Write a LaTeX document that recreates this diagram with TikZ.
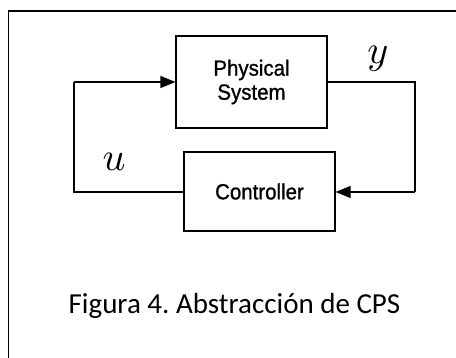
\documentclass[tikz,border=0pt]{standalone}
\usepackage{fontspec}
\newfontfamily\blockfont[FakeStretch=0.93,FakeBold=1]{Liberation Sans}
\newfontfamily\captionfont{Carlito}
\usetikzlibrary{arrows.meta}
\frenchspacing
\newcommand{\siglabel}[1]{\scalebox{4}{$#1$}}
\begin{document}
\begin{tikzpicture}[x=1pt,y=-1pt,
  block/.style={draw,line width=1.2pt,minimum width=#1,inner sep=0pt,
    align=center,font=\blockfont\fontsize{22}{24}\selectfont},
  wire/.style={line width=1.2pt},
  arr/.style={wire,-{Triangle[length=15pt,width=12pt]}},
  lbl/.style={inner sep=0pt}]
\useasboundingbox (0,0) rectangle (456,358);
% frame
\draw[line width=1.6pt] (8.5,358) -- (8.5,11) -- (456,11);
% blocks
\node[block=151pt,minimum height=92pt] (ps) at (251.5,82) {Physical\\System};
\node[block=151pt,minimum height=79pt] (ctl) at (259.5,191.5) {Controller};
% loop corners
\coordinate (tl) at (74,82);
\coordinate (bl) at (74,192);
\coordinate (tr) at (415,82);
\coordinate (br) at (415,192);
% connectors
\draw[wire] (ctl.west |- bl) -- (bl) -- (tl);
\draw[arr] (tl) -- (ps.west |- tl);
\draw[wire] (ps.east |- tr) -- (tr) -- (br);
\draw[arr] (br) -- (ctl.east |- br);
% signal labels
\node[lbl] (ylab) at (378,59) {\siglabel{y}};
\node[lbl] (ulab) at (114,162) {\siglabel{u}};
% caption
\node[anchor=base,inner sep=0pt,font=\captionfont\fontsize{29}{29}\selectfont] (cap) at (234.5,314) {Figura 4. Abstracción de CPS};
\end{tikzpicture}
\end{document}
